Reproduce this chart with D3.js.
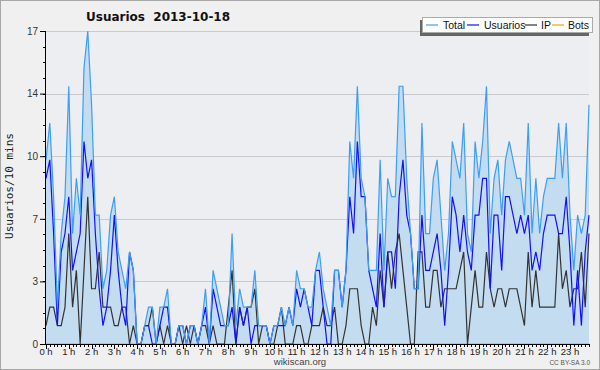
<!DOCTYPE html>
<html><head><meta charset="utf-8">
<script src="https://cdn.jsdelivr.net/npm/d3@7"></script>
<style>
html,body{margin:0;padding:0;background:#f0f0f0;}
svg{display:block;}
</style></head>
<body>
<svg id="chart" width="600" height="370"></svg>
<script>
// ---- data (10-minute intervals, 144 per day) ----
const title = "Usuarios  2013-10-18";
const hourLabels = d3.range(24).map(h => h + " h");
const total = [
 10,12,8,2,6,8,14,6,9,7,
 15,17,13,7,7,3,4,7,8,5,
 4,3,5,4,0,0,1,2,2,0,
 2,2,3,0,0,1,1,0,1,1,
 0,1,3,0,4,3,2,1,1,6,
 1,3,2,2,2,4,1,1,1,0,
 1,1,2,1,2,1,4,3,3,2,
 2,4,5,3,2,1,4,4,2,4,
 11,9,14,9,8,4,4,4,10,4,
 9,8,8,14,14,9,6,3,3,12,
 6,6,9,10,7,4,6,11,10,9,
 12,6,5,11,9,11,14,6,9,10,
 7,10,11,10,9,9,7,12,6,9,
 6,8,9,9,9,12,9,12,7,4,
 7,6,7,13];
const usuarios = [
 9,10,6,1,5,6,8,4,5,6,
 11,9,10,6,3,1,2,4,7,4,
 2,1,5,4,0,0,1,1,0,0,
 1,2,2,0,0,1,1,0,1,1,
 0,1,2,0,3,2,1,1,1,2,
 0,2,1,2,0,1,1,1,1,0,
 1,1,1,1,2,1,3,2,3,2,
 1,4,4,2,0,0,4,4,2,4,
 8,6,11,8,8,4,3,2,6,2,
 5,5,3,8,10,7,6,3,3,7,
 4,4,5,6,4,1,4,8,7,5,
 7,5,4,7,7,9,9,3,7,7,
 4,8,8,7,6,7,6,7,4,5,
 4,6,7,7,7,6,6,8,5,1,
 4,1,5,7];
const ip = [
 1,2,2,1,1,2,6,2,4,0,
 4,8,3,3,5,2,2,2,1,1,
 2,2,0,1,0,0,1,1,2,0,
 1,0,1,0,0,1,0,1,0,1,
 0,1,1,0,1,0,0,0,2,4,
 0,2,1,2,2,3,0,1,1,0,
 0,1,2,0,0,0,1,1,0,0,
 1,1,1,2,1,1,2,0,0,1,
 3,3,3,1,0,0,2,1,4,2,
 5,3,5,6,4,2,0,0,5,5,
 2,2,4,4,2,3,3,3,3,4,
 5,0,2,4,2,2,5,3,2,3,
 3,2,3,3,3,2,1,5,2,4,
 2,2,2,2,2,6,3,4,2,3,
 3,5,2,6];
const bots = d3.range(144).map(() => 0);
const yTickValues = [0, 3.4, 6.8, 10.2, 13.6, 17];
const yTickLabels = ["0", "3", "7", "10", "14", "17"];
const legendNames = ["Total", "Usuarios", "IP", "Bots"];
const legendColors = ["#3d9ef5", "#1010ff", "#333333", "#ff9900"];

// ---- drawing ----
const svg = d3.select("#chart");
const W = 600, H = 370;
const L = 46, R = 589, T = 31, B = 344;

svg.append("rect").attr("x", 0.5).attr("y", 0.5).attr("width", W - 1).attr("height", H - 1)
  .attr("fill", "#f0f0f0").attr("stroke", "#a8a8a8");

const x = d3.scaleLinear().domain([0, 143]).range([L, R]);
const y = d3.scaleLinear().domain([0, 17]).range([B, T]);

svg.append("rect").attr("x", L).attr("y", T).attr("width", R - L).attr("height", B - T)
  .attr("fill", "#eceef1");

// gridlines
svg.append("g").selectAll("line").data(yTickValues.slice(1)).join("line")
  .attr("x1", L).attr("x2", R).attr("y1", d => Math.round(y(d)) + 0.5).attr("y2", d => Math.round(y(d)) + 0.5)
  .attr("stroke", "#c9cacc").attr("stroke-width", 1);

// area
const area = d3.area().x((d, i) => x(i)).y0(y(0)).y1(d => y(d));
svg.append("path").datum(total).attr("d", area).attr("fill", "#c4dcf0");

const line = d3.line().x((d, i) => x(i)).y(d => y(d));
const series = [bots, ip, usuarios, total];
const cols = [legendColors[3], legendColors[2], legendColors[1], legendColors[0]];
series.forEach((s, k) => {
  svg.append("path").datum(s).attr("d", line).attr("fill", "none")
    .attr("stroke", cols[k]).attr("stroke-width", 1.2).attr("stroke-linejoin", "miter");
});

// y axis
const yAxis = d3.axisLeft(y).tickValues(yTickValues).tickFormat((d, i) => yTickLabels[i]).tickSize(6).tickPadding(2);
const ya = svg.append("g").attr("transform", `translate(${L},0)`).call(yAxis);
ya.select(".domain").remove();
ya.selectAll("text").attr("font-family", "Liberation Sans, Arial, sans-serif").attr("font-size", 10).attr("fill", "#333");
const yMinor = d3.range(0, 17.001, 0.85);
svg.append("g").selectAll("line").data(yMinor).join("line")
  .attr("x1", L - 3).attr("x2", L).attr("y1", d => Math.round(y(d)) + 0.5).attr("y2", d => Math.round(y(d)) + 0.5)
  .attr("stroke", "#000");
svg.append("line").attr("x1", L - 0.5).attr("x2", L - 0.5).attr("y1", T).attr("y2", B + 1).attr("stroke", "#000");

// x axis
const xMinor = d3.range(0, 144);
svg.append("g").selectAll("line").data(xMinor).join("line")
  .attr("x1", d => Math.round(x(d)) + 0.5).attr("x2", d => Math.round(x(d)) + 0.5)
  .attr("y1", B).attr("y2", d => d % 6 === 0 ? B + 5 : B + 3)
  .attr("stroke", "#000");
svg.append("line").attr("x1", L - 1).attr("x2", R + 1).attr("y1", B + 0.5).attr("y2", B + 0.5).attr("stroke", "#000");
svg.append("g").selectAll("text").data(hourLabels).join("text")
  .attr("x", (d, h) => x(h * 6)).attr("y", B + 11).attr("text-anchor", "middle")
  .attr("font-family", "Liberation Sans, Arial, sans-serif").attr("font-size", 9.5).attr("fill", "#222")
  .text(d => d);

// title
svg.append("text").attr("x", 86).attr("y", 21).attr("font-family", "DejaVu Sans, sans-serif")
  .attr("font-weight", "bold").attr("font-size", 12).attr("fill", "#111").attr("xml:space", "preserve")
  .style("white-space", "pre").text(title);

// y label
svg.append("text").attr("transform", "translate(13,186) rotate(-90)").attr("text-anchor", "middle")
  .attr("font-family", "DejaVu Sans Mono, monospace").attr("font-size", 11).attr("fill", "#222")
  .text("Usuarios/10 mins");

// legend
const lg = svg.append("g");
lg.append("rect").attr("x", 420).attr("y", 20).attr("width", 169).attr("height", 16).attr("fill", "#666");
lg.append("rect").attr("x", 422.5).attr("y", 17.5).attr("width", 170).attr("height", 15).attr("fill", "#fff").attr("stroke", "#aaa");
const lx = [426, 467, 525, 552];
const tx = [443, 484, 541, 568];
legendNames.forEach((n, k) => {
  lg.append("line").attr("x1", lx[k]).attr("x2", lx[k] + 12).attr("y1", 25).attr("y2", 25)
    .attr("stroke", legendColors[k]).attr("stroke-width", 1.2);
  lg.append("text").attr("x", tx[k]).attr("y", 29).attr("font-family", "Liberation Sans, Arial, sans-serif")
    .attr("font-size", 10.5).attr("fill", "#111").text(n);
});

// footer
svg.append("text").attr("x", 300).attr("y", 365).attr("text-anchor", "middle")
  .attr("font-family", "Liberation Sans, Arial, sans-serif").attr("font-size", 9.5).attr("fill", "#444").text("wikiscan.org");
svg.append("text").attr("x", 590).attr("y", 365).attr("text-anchor", "end")
  .attr("font-family", "Liberation Sans, Arial, sans-serif").attr("font-size", 6.5).attr("fill", "#555").text("CC BY-SA 3.0");
</script>
</body></html>
